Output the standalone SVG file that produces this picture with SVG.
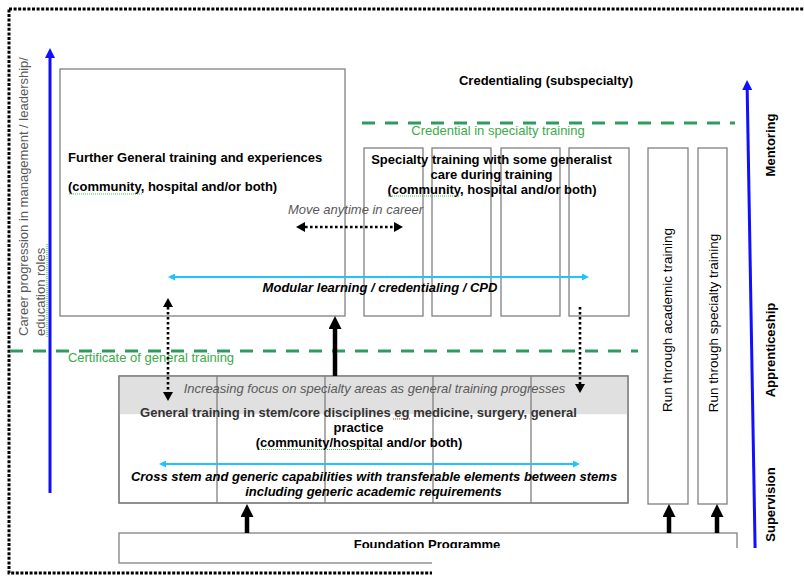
<svg xmlns="http://www.w3.org/2000/svg" width="804" height="576" viewBox="0 0 804 576">
<style>
text{font-family:"Liberation Sans",Arial,sans-serif;font-size:13px;fill:#000}
.b{font-weight:bold}
.bi{font-weight:bold;font-style:italic}
.gi{font-style:italic;fill:#595959}
.grey{fill:#595959}
.dk{fill:#333}
.g{fill:#3cab4a}
.box{fill:#fff;stroke:#808080;stroke-width:1.3}
.div{fill:none;stroke:#808080;stroke-width:1.3}
.gdash{stroke:#2e9b5f;stroke-width:3;stroke-dasharray:13 10;fill:none}
.dot{stroke:#000;stroke-width:2.6;stroke-dasharray:2.6 2.4;fill:none}
.thick{stroke:#000;stroke-width:4.5;fill:none}
.cyan{stroke:#1ec4ff;stroke-width:2;fill:none}
.blue{stroke:#1010ff;stroke-width:3;fill:none}
.sq{stroke:#4cc04c;stroke-width:1.2;stroke-dasharray:1 1;fill:none}
.sqr{stroke:#e03030;stroke-width:1.2;stroke-dasharray:1 1;fill:none}
</style>
<defs>
<marker id="mThick" markerUnits="userSpaceOnUse" markerWidth="13" markerHeight="13" viewBox="0 0 13 13" refX="0" refY="6.5" orient="auto-start-reverse"><polygon points="0,0 13,6.5 0,13" fill="#000"/></marker>
<marker id="mDot" markerUnits="userSpaceOnUse" markerWidth="9" markerHeight="10" viewBox="0 0 9 10" refX="0" refY="5" orient="auto-start-reverse"><polygon points="0,0 9,5 0,10" fill="#000"/></marker>
<marker id="mCyan" markerUnits="userSpaceOnUse" markerWidth="7" markerHeight="7" viewBox="0 0 7 7" refX="0" refY="3.5" orient="auto-start-reverse"><polygon points="0,0 7,3.5 0,7" fill="#1ec4ff"/></marker>
<marker id="mBlue" markerUnits="userSpaceOnUse" markerWidth="10" markerHeight="10" viewBox="0 0 10 10" refX="0" refY="5" orient="auto-start-reverse"><polygon points="0,0 10,5 0,10" fill="#1010ff"/></marker>
<clipPath id="fpClip"><rect x="120" y="530" width="620" height="18"/></clipPath>
</defs>

<rect x="0" y="0" width="804" height="576" fill="#fff"/>

<!-- dotted frame -->
<rect id="frame" x="9" y="9" width="820" height="564" fill="none" stroke="#000" stroke-width="3" stroke-dasharray="3 1.6"/>

<!-- left career axis label -->
<g id="career-label">
<text class="grey" transform="translate(27.5,336) rotate(-90)">Career progression in management / leadership/</text>
<text class="grey" transform="translate(44.5,336) rotate(-90)">education  roles</text>
<line class="sq" x1="47" y1="337" x2="47" y2="243"/>
</g>

<!-- green dashed levels -->
<g id="levels">
<line class="gdash" x1="362" y1="123" x2="735" y2="123"/>
<text class="g" x="498" y="134.5" text-anchor="middle">Credential in specialty training</text>
<line class="gdash" x1="10" y1="351" x2="638" y2="351"/>
<text class="g" x="151" y="361.5" text-anchor="middle">Certificate of general training</text>
</g>

<g id="credentialing">
<text class="b" x="546" y="85" text-anchor="middle">Credentialing (subspecialty)</text>
</g>

<g id="further-general">
<rect class="box" x="60" y="69" width="285" height="247"/>
<text class="b" x="68" y="161.5">Further General training and experiences</text>
<text class="b" x="68" y="191">(community, hospital and/or both)</text>
<line class="sq" x1="69" y1="194" x2="143" y2="194"/>
</g>

<g id="specialty">
<rect class="box" x="364" y="148" width="59" height="168"/>
<rect class="box" x="432" y="148" width="59" height="168"/>
<rect class="box" x="501" y="148" width="59" height="168"/>
<rect class="box" x="569" y="148" width="60" height="168"/>
<text class="b" x="491.5" y="163.5" text-anchor="middle">Specialty training with some generalist</text>
<text class="b" x="491.5" y="178.5" text-anchor="middle">care during training</text>
<text class="b" x="492" y="193.5" text-anchor="middle">(community, hospital and/or both)</text>
<line class="sq" x1="388" y1="196" x2="460" y2="196"/>
</g>

<g id="run-academic">
<rect class="box" x="648" y="148" width="40" height="356"/>
<text transform="translate(672,320) rotate(-90)" text-anchor="middle" style="font-size:13.5px">Run through academic training</text>
</g>

<g id="run-specialty">
<rect class="box" x="698" y="148" width="29" height="356"/>
<text transform="translate(717.5,323) rotate(-90)" text-anchor="middle" style="font-size:13.5px">Run through specialty training</text>
</g>

<g id="general-training">
<rect class="box" x="119" y="376" width="509" height="127"/>
<rect x="119.7" y="376.7" width="507.6" height="37.5" fill="#e0e0e0"/>
<line class="div" x1="217" y1="376" x2="217" y2="503"/>
<line class="div" x1="325" y1="376" x2="325" y2="503"/>
<line class="div" x1="433" y1="376" x2="433" y2="503"/>
<line class="div" x1="531" y1="376" x2="531" y2="503"/>
<rect x="119" y="376" width="509" height="127" fill="none" stroke="#808080" stroke-width="1.3"/>
<text class="gi" x="374.5" y="392.5" text-anchor="middle">Increasing focus on specialty areas as general training progresses</text>
<text class="b dk" x="358.5" y="416.5" text-anchor="middle">General training in stem/core disciplines eg medicine, surgery, general</text>
<text class="b" x="358.5" y="431.5" text-anchor="middle">practice</text>
<text class="b" x="359" y="446.5" text-anchor="middle">(community/hospital and/or both)</text>
<line class="sq" x1="257" y1="449.5" x2="383" y2="449.5"/>
<line class="sqr" x1="393" y1="419" x2="410" y2="419"/>
<text class="bi" x="374" y="480.5" text-anchor="middle">Cross stem and generic capabilities with transferable elements between stems</text>
<text class="bi" x="373.5" y="495.5" text-anchor="middle">including generic academic requirements</text>
</g>

<g id="foundation">
<rect class="box" x="119" y="533" width="618" height="30"/>
<text class="b" x="427" y="548.6" text-anchor="middle" clip-path="url(#fpClip)">Foundation Programme</text>
</g>

<g id="connectors">
<line class="dot" x1="305" y1="227" x2="394" y2="227" marker-start="url(#mDot)" marker-end="url(#mDot)"/>
<text class="gi" x="355.5" y="214" text-anchor="middle">Move anytime in career</text>
<line class="cyan" x1="175" y1="277" x2="582" y2="277" marker-start="url(#mCyan)" marker-end="url(#mCyan)"/>
<line class="dot" x1="168" y1="307" x2="168" y2="392" marker-start="url(#mDot)" marker-end="url(#mDot)"/>
<line class="dot" x1="580" y1="307" x2="580" y2="384" marker-end="url(#mDot)"/>
<line class="thick" x1="335" y1="376" x2="335" y2="329" marker-end="url(#mThick)"/>
<line class="thick" x1="247" y1="533" x2="247" y2="517" marker-end="url(#mThick)"/>
<line class="thick" x1="669" y1="533" x2="669" y2="517" marker-end="url(#mThick)"/>
<line class="thick" x1="717" y1="533" x2="717" y2="517" marker-end="url(#mThick)"/>
<line class="cyan" x1="166" y1="464" x2="573" y2="464" marker-start="url(#mCyan)" marker-end="url(#mCyan)"/>
<line class="blue" x1="50" y1="493" x2="50" y2="58" marker-end="url(#mBlue)"/>
<line class="blue" x1="755.3" y1="560" x2="747.2" y2="90" marker-end="url(#mBlue)"/>
</g>
<text class="bi" x="380" y="292" text-anchor="middle">Modular learning / credentialing / CPD</text>

<g id="stages">
<text class="b" transform="translate(775,145) rotate(-90)" text-anchor="middle">Mentoring</text>
<text class="b" transform="translate(775,350) rotate(-90)" text-anchor="middle">Apprenticeship</text>
<text class="b" transform="translate(775,504.5) rotate(-90)" text-anchor="middle">Supervision</text>
</g>

<!-- white crop at bottom right -->
<rect x="432" y="548" width="372" height="28" fill="#fff"/>
</svg>
